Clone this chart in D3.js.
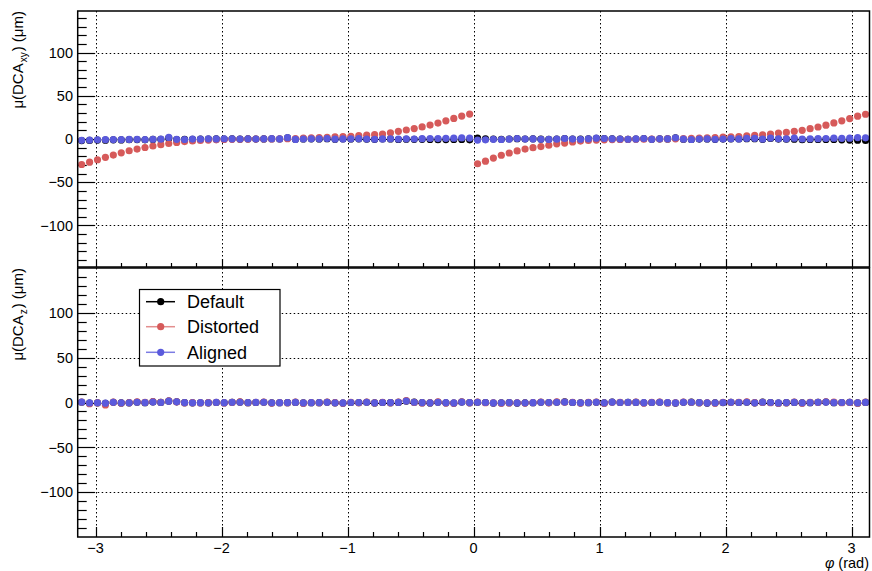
<!DOCTYPE html>
<html>
<head>
<meta charset="utf-8">
<script src="https://cdn.jsdelivr.net/npm/d3@7"></script>
<style>
  html, body { margin: 0; padding: 0; background: #fff; }
  svg { display: block; }
  text { font-family: "Liberation Sans", Arial, Helvetica, sans-serif; fill: #000; }
</style>
</head>
<body>
<svg id="chart" width="872" height="571"></svg>
<script>
// ---------------- DATA ----------------
const nBins = 100;
const phiMin = -Math.PI, phiMax = Math.PI;

const seriesNames = ["Default", "Distorted", "Aligned"];

// top panel: mu(DCA_xy) in um
const xyDefault = [
  -1.8,-1.6,-1.3,-1.4,-1.0,-1.1,-0.8,-0.7,-0.9,-0.5,
  -0.4, 1.0,-0.6,-0.5,-0.3,-0.2, 0.0, 0.1, 0.0, 0.2,
  -0.2, 0.2,-0.1, 0.1, 0.3, 0.0, 1.2,-0.4, 0.1, 0.2,
   0.1, 0.3,-0.3, 0.0, 0.1, 0.2,-0.2,-0.4, 0.0, 0.1,
  -0.6,-0.3,-0.4,-0.4,-0.6,-0.8,-0.7,-0.6,-0.5,-0.9,
   1.0, 0.3, 0.0,-0.3, 0.0, 0.4, 0.0, 0.2,-0.2,-0.3,
  -0.1, 0.5, 0.0,-0.2, 0.2, 0.8, 0.5, 0.1,-0.2,-0.3,
   0.0, 0.5,-0.3, 0.2, 0.1, 1.2,-0.3,-0.6,-0.1, 0.1,
  -0.4,-0.1, 0.2, 0.0, 0.4, 0.4,-0.4, 0.6,-0.1,-0.2,
  -0.3,-0.8,-0.6,-0.6,-0.5,-0.5,-1.0,-1.2,-1.4,-1.6
];
const xyDistorted = [
  -29.5,-26.8,-24.0,-21.2,-18.6,-16.0,-13.6,-11.6,-9.8,-8.1,
  -6.6,-5.2,-4.0,-3.0,-2.2,-1.6,-1.2,-0.9,-0.6,-0.4,
  -0.3,-0.2,-0.1, 0.0, 0.1, 0.2, 0.4, 0.6, 0.9, 1.2,
   1.6, 2.0, 2.4, 2.8, 3.2, 3.8, 4.4, 5.0, 5.8, 7.2,
   8.9,10.4,12.1,14.0,16.1,18.4,21.0,23.8,26.5,28.8,
  -28.6,-25.6,-22.0,-18.8,-16.2,-13.8,-11.6,-10.0,-8.8,-7.2,
  -5.6,-4.7,-3.4,-2.4,-1.7,-1.3,-1.0,-0.7,-0.5,-0.4,
  -0.3,-0.2,-0.1, 0.0, 0.1, 0.2, 0.4, 0.7, 1.0, 1.3,
   1.7, 2.1, 2.5, 2.9, 3.5, 4.3, 4.8, 5.8, 6.8, 7.6,
   8.9,10.0,11.9,13.9,16.0,18.6,21.0,23.6,26.4,28.6
];
const xyAligned = [
  -1.5,-1.2,-0.9,-0.8,-0.7,-0.8,-0.5,-0.4,-0.6,-0.3,
  -0.2, 1.8,-0.4,-0.6,-0.1,-0.2, 0.2, 0.1, 0.3, 0.2,
  -0.1, 0.3, 0.0, 0.2, 0.4, 0.1, 1.5,-0.5, 0.0, 0.3,
   0.2, 0.5,-0.2, 0.1, 0.2, 0.4,-0.1,-0.3, 0.1, 0.3,
  -0.2, 0.2, 0.0, 0.4, 0.6, 0.5, 0.8, 1.0, 1.2, 1.1,
  -1.2,-0.9,-0.4,-0.6,-0.2, 0.5,-0.1, 0.1,-0.3,-0.5,
  -0.2, 0.6,-0.1,-0.3, 0.2, 0.9, 0.6, 0.2,-0.1,-0.3,
   0.1, 0.6,-0.4, 0.3, 0.2, 1.4,-0.2,-0.6, 0.0, 0.2,
  -0.3, 0.0, 0.4, 0.1, 0.7, 0.8,-0.2, 1.1, 0.3, 0.2,
   0.9, 0.0, 0.2, 0.4, 0.6, 0.9, 0.8, 1.0, 1.6, 1.4
];

// bottom panel: mu(DCA_z) in um
const zDefault = [
   0.3,-0.6,-0.4,-0.9, 0.2,-0.5,-0.4, 0.3,-0.2, 0.6,
   0.1, 1.6, 0.8,-0.2,-0.4,-0.3,-0.4, 0.0,-0.3, 0.2,
   0.4,-0.2, 0.0, 0.3,-0.4,-0.3,-0.2, 0.1,-0.5,-0.3,
  -0.2, 0.2,-0.4,-0.6, 0.0,-0.1, 0.3,-0.5, 0.0,-0.2,
   0.1, 1.6, 0.4,-0.2,-0.5, 0.3,-0.3,-0.6, 0.5,-0.2,
   0.2, 0.0,-0.6,-0.4,-0.2,-0.6,-0.4,-0.3, 0.2,-0.1,
   0.3, 0.6, 0.0,-0.4,-0.2, 0.2,-0.5, 0.5, 0.0, 0.2,
   0.1,-0.3, 0.0, 0.2,-0.3,-0.6, 0.2, 0.4,-0.2,-0.6,
  -0.4,-0.1, 0.3, 0.0, 0.3,-0.4, 0.4, 0.0,-0.6,-0.2,
   0.1,-0.4,-0.2, 0.3, 0.5,-0.2, 0.0, 0.3,-0.5, 0.1
];
const zDistorted = [
   0.5,-1.3,-0.4,-2.8, 0.4,-0.6,-0.2, 0.8, 0.1, 1.0,
   0.3, 1.9, 0.6,-0.4,-0.2,-0.4,-0.2, 0.3,-0.5, 0.1,
   0.6,-0.3, 0.2, 0.5,-0.6,-0.1,-0.3, 0.4,-0.7,-0.1,
  -0.3, 0.5,-0.2,-0.8, 0.3,-0.3, 0.5,-0.4, 0.3,-0.4,
   0.4, 2.0, 0.1,-0.5,-0.3, 0.6,-0.6,-0.8, 0.7,-0.4,
   0.5,-0.3,-0.4,-0.7,-0.5,-0.3,-0.6,-0.1, 0.5,-0.4,
   0.6, 0.4, 0.3,-0.6, 0.1, 0.5,-0.8, 0.3, 0.3, 0.0,
   0.4,-0.6, 0.2, 0.5,-0.5,-0.4, 0.5, 0.2,-0.4,-0.3,
  -0.7, 0.2, 0.1, 0.3, 0.8,-0.2, 0.1,-0.3,-0.9,-0.4,
   0.4,-0.7, 0.2, 0.1, 0.7, 0.4,-0.3, 0.1,-0.7, 0.4
];
const zAligned = [
   0.4,-0.5,-0.3,-0.7, 0.2,-0.4,-0.3, 0.3,-0.1, 0.5,
   0.0, 1.5, 0.7,-0.1,-0.3,-0.2,-0.3, 0.1,-0.2, 0.2,
   0.3,-0.1, 0.1, 0.3,-0.3,-0.2,-0.1, 0.1,-0.4,-0.2,
  -0.1, 0.2,-0.3,-0.5, 0.0, 0.0, 0.2,-0.4, 0.0,-0.1,
   0.1, 1.7, 0.3,-0.1,-0.4, 0.2,-0.2,-0.5, 0.4,-0.1,
   0.2, 0.0,-0.5,-0.3,-0.1,-0.5,-0.3,-0.2, 0.2, 0.0,
   0.2, 0.5, 0.0,-0.3,-0.1, 0.2,-0.4, 0.4, 0.0, 0.1,
   0.1,-0.2, 0.0, 0.2,-0.2,-0.5, 0.2, 0.3,-0.1,-0.5,
  -0.3, 0.0, 0.2, 0.0, 0.3,-0.3, 0.3, 0.0,-0.5,-0.1,
   0.1,-0.3,-0.1, 0.2, 0.4,-0.1, 0.0, 0.2,-0.4, 0.1
];

const xTickValues = [-3, -2, -1, 0, 1, 2, 3];
const yTickValues = [-100, -50, 0, 50, 100];

// ---------------- STYLE / LAYOUT ----------------
const colors = { Default: "#000000", Distorted: "#d65a5a", Aligned: "#5a5adc" };
const legendLineColors = { Default: "#000000", Distorted: "#e38e8e", Aligned: "#7b7be3" };
const frameL = 77.7, frameR = 869.5;
const topPanel = { y0: 11, y1: 267, dom: [-148, 148] };
const botPanel = { y0: 268, y1: 537, dom: [-150, 150] };
const fmt = v => (v < 0 ? "\u2212" + Math.abs(v) : String(v));

const svg = d3.select("#chart");
const x = d3.scaleLinear().domain([phiMin, phiMax]).range([frameL, frameR]);
const binW = (phiMax - phiMin) / nBins;
const phiCenters = d3.range(nBins).map(i => phiMin + (i + 0.5) * binW);

function drawPanel(p, series, titleSub, xTickMajor, xTickMinor) {
  const y = d3.scaleLinear().domain(p.dom).range([p.y1, p.y0]);
  const g = svg.append("g");

  // grid (dotted)
  const grid = g.append("g").attr("stroke", "#000").attr("stroke-width", 1)
    .attr("stroke-dasharray", "1.5,2.5");
  grid.selectAll("line.vx").data(xTickValues).join("line")
    .attr("x1", d => Math.round(x(d)) + 0.5).attr("x2", d => Math.round(x(d)) + 0.5)
    .attr("y1", p.y0).attr("y2", p.y1);
  grid.selectAll("line.hy").data(yTickValues).join("line")
    .attr("x1", frameL).attr("x2", frameR)
    .attr("y1", d => Math.round(y(d)) + 0.5).attr("y2", d => Math.round(y(d)) + 0.5);

  // y ticks (inside frame, from left)
  const yMinor = d3.range(-140, 141, 10);
  g.append("g").selectAll("line").data(yMinor).join("line")
    .attr("x1", frameL).attr("x2", d => frameL + (d % 50 === 0 ? 17 : 9))
    .attr("y1", d => Math.round(y(d)) + 0.5).attr("y2", d => Math.round(y(d)) + 0.5)
    .attr("stroke", "#000").attr("stroke-width", 1.2);
  // y labels
  g.append("g").selectAll("text").data(yTickValues).join("text")
    .attr("x", 73).attr("y", d => y(d)).attr("dy", "0.36em")
    .attr("text-anchor", "end").attr("font-size", 14.5).text(fmt);

  // x ticks (bottom of panel, pointing up)
  const xTicksAll = d3.range(-3, 3.01, 0.2).map(v => Math.round(v * 10) / 10);
  g.append("g").selectAll("line").data(xTicksAll).join("line")
    .attr("x1", d => Math.round(x(d)) + 0.5).attr("x2", d => Math.round(x(d)) + 0.5)
    .attr("y1", p.y1).attr("y2", d => p.y1 - (Math.abs(d - Math.round(d)) < 1e-6 ? xTickMajor : xTickMinor))
    .attr("stroke", "#000").attr("stroke-width", 1.2);

  // markers
  series.forEach(s => {
    g.append("g").attr("fill", colors[s.name]).selectAll("circle")
      .data(s.values).join("circle")
      .attr("cx", (d, i) => x(phiCenters[i]))
      .attr("cy", d => y(d))
      .attr("r", 3.6);
  });

  // frame
  g.append("rect").attr("x", frameL).attr("y", p.y0)
    .attr("width", frameR - frameL).attr("height", p.y1 - p.y0)
    .attr("fill", "none").attr("stroke", "#000").attr("stroke-width", 1.5);

  // y title (rotated)
  const t = g.append("text")
    .attr("transform", `translate(23,${p.y0}) rotate(-90)`)
    .attr("text-anchor", "end").attr("font-size", 15);
  t.append("tspan").text("\u03bc(DCA");
  t.append("tspan").attr("font-size", 10).attr("dy", 4).attr("dx", 1).text(titleSub);
  t.append("tspan").attr("dy", -4).attr("dx", 1).text(") (\u03bcm)");
  return y;
}

drawPanel(topPanel, [
  { name: "Default", values: xyDefault },
  { name: "Distorted", values: xyDistorted },
  { name: "Aligned", values: xyAligned }
], "xy", 8, 4);

drawPanel(botPanel, [
  { name: "Default", values: zDefault },
  { name: "Distorted", values: zDistorted },
  { name: "Aligned", values: zAligned }
], "z", 10, 5);

// x labels
svg.append("g").selectAll("text").data(xTickValues).join("text")
  .attr("x", d => x(d)).attr("y", 552.5).attr("text-anchor", "middle")
  .attr("font-size", 14.5).text(fmt);

// x title
const xt = svg.append("text").attr("x", 869).attr("y", 567.5)
  .attr("text-anchor", "end").attr("font-size", 14.5);
xt.append("tspan").attr("font-style", "italic").text("\u03c6");
xt.append("tspan").text(" (rad)");

// legend
const leg = svg.append("g");
leg.append("rect").attr("x", 139.5).attr("y", 289.5).attr("width", 140.5).attr("height", 76.5)
  .attr("fill", "#fff").attr("stroke", "#000").attr("stroke-width", 1.2);
const legY = [301.7, 326.7, 352.3];
seriesNames.forEach((n, i) => {
  leg.append("line").attr("x1", 146).attr("x2", 175).attr("y1", legY[i]).attr("y2", legY[i])
    .attr("stroke", legendLineColors[n]).attr("stroke-width", 1.5);
  leg.append("circle").attr("cx", 160.7).attr("cy", legY[i]).attr("r", 3.6).attr("fill", colors[n]);
  leg.append("text").attr("x", 187).attr("y", legY[i]).attr("dy", "0.36em")
    .attr("font-size", 18).text(n);
});
</script>
</body>
</html>
